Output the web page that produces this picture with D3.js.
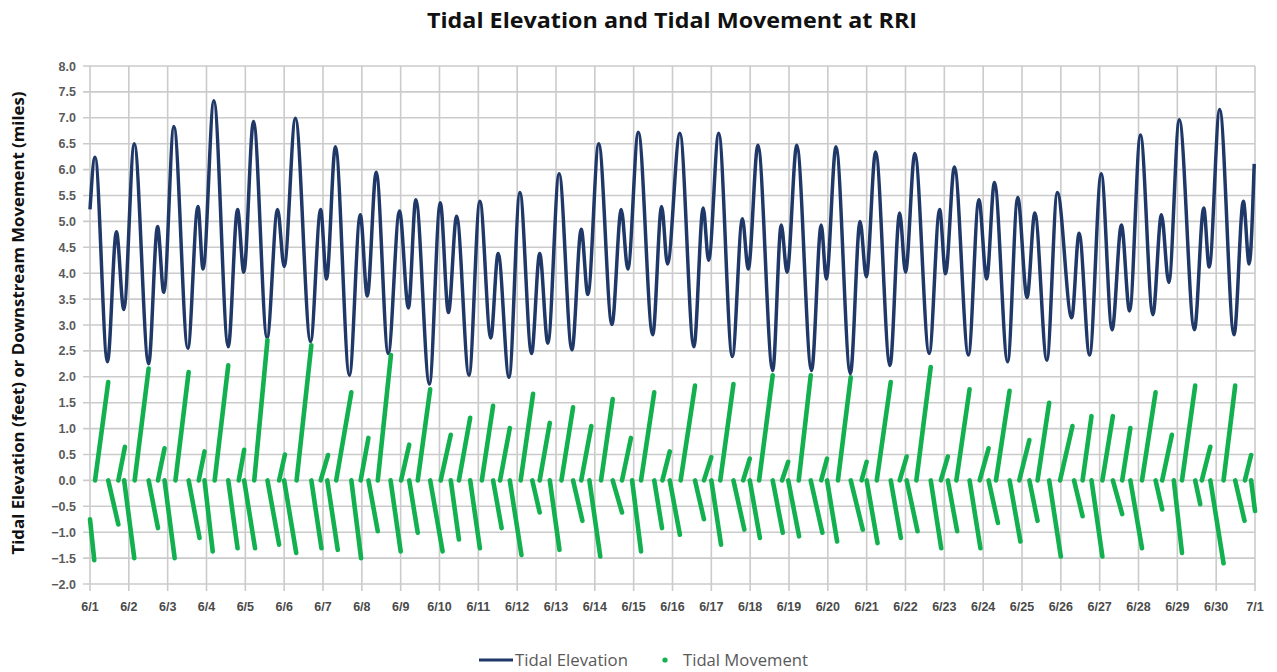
<!DOCTYPE html>
<html>
<head>
<meta charset="utf-8">
<script src="https://cdn.jsdelivr.net/npm/d3@7"></script>
<style>
  html, body { margin: 0; padding: 0; background: #ffffff; }
  svg { display: block; }
</style>
</head>
<body>
<svg id="chart" width="1277" height="672"></svg>
<script>
// Tide extremes (day offset from 6/1 00:00, elevation in feet)
const tideDays = [
  0.00, 0.13, 0.45, 0.68, 0.87, 1.14, 1.51, 1.74, 1.90, 2.16, 2.52, 2.78, 2.91, 3.19, 3.56, 3.80, 3.96,
  4.21, 4.56, 4.83, 5.00, 5.29, 5.68, 5.94, 6.09, 6.32, 6.68, 6.96, 7.14, 7.37, 7.68, 7.97, 8.20, 8.39,
  8.74, 9.02, 9.23, 9.44, 9.76, 10.04, 10.32, 10.51, 10.79, 11.07, 11.37, 11.58, 11.79, 12.08, 12.41,
  12.65, 12.82, 13.10, 13.44, 13.68, 13.85, 14.12, 14.49, 14.72, 14.87, 15.19, 15.55, 15.79, 15.93,
  16.19, 16.54, 16.80, 16.95, 17.20, 17.58, 17.80, 17.95, 18.20, 18.58, 18.83, 18.96, 19.21, 19.58,
  19.83, 19.99, 20.23, 20.60, 20.85, 21.00, 21.24, 21.61, 21.88, 22.03, 22.26, 22.62, 22.89, 23.09,
  23.29, 23.63, 23.89, 24.13, 24.33, 24.64, 24.91, 25.28, 25.47, 25.74, 26.04, 26.32, 26.56, 26.77,
  27.05, 27.37, 27.59, 27.78, 28.05, 28.44, 28.68, 28.82, 29.09, 29.46, 29.70, 29.85, 29.98
];
const tideFeet = [
  5.23, 6.24, 2.29, 4.80, 3.30, 6.50, 2.25, 4.90, 3.63, 6.83, 2.55, 5.29, 4.08, 7.33, 2.58, 5.23, 4.02,
  6.93, 2.75, 5.23, 4.13, 6.99, 2.68, 5.23, 3.89, 6.44, 2.03, 5.13, 3.56, 5.95, 2.45, 5.20, 3.33, 5.42,
  1.86, 5.36, 3.24, 5.10, 2.03, 5.39, 2.75, 4.38, 1.99, 5.56, 2.45, 4.38, 2.65, 5.92, 2.52,
  4.85, 3.59, 6.50, 3.01, 5.23, 4.08, 6.72, 2.81, 5.29, 4.18, 6.70, 2.58, 5.26, 4.25,
  6.70, 2.39, 5.05, 4.08, 6.47, 2.12, 4.93, 4.02, 6.47, 2.12, 4.93, 3.89, 6.44, 2.06,
  5.00, 3.93, 6.34, 2.22, 5.16, 4.02, 6.31, 2.45, 5.23, 3.99, 6.05, 2.42, 5.42, 3.89,
  5.75, 2.29, 5.46, 3.53, 5.16, 2.32, 5.56, 3.14, 4.77, 2.42, 5.92, 2.91, 4.93, 3.27,
  6.67, 3.20, 5.13, 3.82, 6.96, 2.91, 5.26, 4.12, 7.16, 2.81, 5.39, 4.18, 6.11
];

// Downstream movement during each ebb: [startDay, endDay, endMiles]
const ebbRuns = [
  [0.13, 0.47, 1.90], [0.73, 0.90, 0.65], [1.15, 1.51, 2.16], [1.75, 1.92, 0.62], [2.20, 2.54, 2.09],
  [2.80, 2.95, 0.56], [3.21, 3.56, 2.22], [3.83, 3.97, 0.59], [4.23, 4.57, 2.71], [4.87, 5.02, 0.50],
  [5.32, 5.70, 2.61], [5.94, 6.13, 0.49], [6.34, 6.73, 1.70], [6.97, 7.17, 0.82], [7.41, 7.75, 2.42],
  [8.01, 8.22, 0.69], [8.44, 8.76, 1.76], [9.03, 9.29, 0.88], [9.50, 9.79, 1.21], [10.09, 10.38, 1.44],
  [10.56, 10.81, 1.01], [11.09, 11.41, 1.67], [11.58, 11.84, 1.11], [12.14, 12.44, 1.41], [12.65, 12.91, 1.05],
  [13.16, 13.46, 1.57], [13.70, 13.93, 0.82], [14.19, 14.53, 1.70], [14.74, 14.93, 0.56], [15.21, 15.58, 1.83],
  [15.81, 16.00, 0.45], [16.23, 16.57, 1.86], [16.82, 16.99, 0.42], [17.23, 17.58, 2.03], [17.82, 17.98, 0.36],
  [18.25, 18.56, 2.03], [18.83, 18.98, 0.42], [19.26, 19.59, 1.99], [19.87, 20.00, 0.36], [20.26, 20.62, 1.90],
  [20.85, 21.03, 0.46], [21.28, 21.65, 2.19], [21.91, 22.09, 0.46], [22.31, 22.65, 1.76], [22.91, 23.14, 0.62],
  [23.33, 23.68, 1.73], [23.93, 24.19, 0.78], [24.40, 24.70, 1.50], [24.98, 25.30, 1.05], [25.56, 25.79, 1.24],
  [26.07, 26.34, 1.24], [26.58, 26.79, 1.01], [27.09, 27.44, 1.70], [27.61, 27.86, 0.88], [28.12, 28.46, 1.83],
  [28.63, 28.85, 0.65], [29.19, 29.49, 1.83], [29.74, 29.90, 0.49]
];

// Upstream movement during each flood: [startDay, endDay, startMiles, endMiles]
const floodRuns = [
  [0.00, 0.11, -0.75, -1.54], [0.47, 0.73, 0, -0.85], [0.88, 1.14, 0, -1.50], [1.51, 1.75, 0, -0.92],
  [1.92, 2.18, 0, -1.50], [2.54, 2.82, 0, -1.11], [2.95, 3.16, 0, -1.37], [3.56, 3.80, 0, -1.31],
  [3.97, 4.25, 0, -1.31], [4.57, 4.87, 0, -1.24], [5.00, 5.31, 0, -1.40], [5.70, 5.96, 0, -1.31],
  [6.11, 6.38, 0, -1.34], [6.73, 6.98, 0, -1.50], [7.17, 7.41, 0, -0.98], [7.74, 8.00, 0, -1.37],
  [8.22, 8.44, 0, -1.01], [8.76, 9.08, 0, -1.37], [9.29, 9.50, 0, -1.14], [9.79, 10.04, 0, -1.31],
  [10.38, 10.60, 0, -0.92], [10.81, 11.11, 0, -1.44], [11.39, 11.58, 0, -0.62], [11.84, 12.09, 0, -1.34],
  [12.44, 12.68, 0, -0.78], [12.86, 13.14, 0, -1.47], [13.46, 13.70, 0, -0.62], [13.96, 14.19, 0, -1.37],
  [14.53, 14.73, 0, -0.92], [14.93, 15.19, 0, -1.05], [15.58, 15.81, 0, -0.75], [16.00, 16.25, 0, -1.24],
  [16.57, 16.85, 0, -0.95], [16.99, 17.25, 0, -1.11], [17.58, 17.84, 0, -1.01], [17.98, 18.26, 0, -1.08],
  [18.56, 18.86, 0, -1.01], [18.98, 19.24, 0, -1.18], [19.59, 19.90, 0, -0.95], [20.00, 20.28, 0, -1.21],
  [20.62, 20.88, 0, -1.11], [21.03, 21.31, 0, -0.98], [21.65, 21.92, 0, -1.31], [22.09, 22.33, 0, -0.98],
  [22.65, 22.93, 0, -1.31], [23.14, 23.38, 0, -0.82], [23.68, 23.96, 0, -1.18], [24.19, 24.40, 0, -0.78],
  [24.70, 25.00, 0, -1.47], [25.34, 25.56, 0, -0.69], [25.79, 26.07, 0, -1.47], [26.34, 26.58, 0, -0.65],
  [26.79, 27.09, 0, -1.31], [27.44, 27.61, 0, -0.56], [27.91, 28.12, 0, -1.40], [28.46, 28.59, 0, -0.46],
  [28.85, 29.19, 0, -1.60], [29.49, 29.73, 0, -0.78], [29.90, 30.00, 0, -0.59]
];

const dateLabels = ["6/1","6/2","6/3","6/4","6/5","6/6","6/7","6/8","6/9","6/10","6/11","6/12","6/13","6/14",
  "6/15","6/16","6/17","6/18","6/19","6/20","6/21","6/22","6/23","6/24","6/25","6/26","6/27","6/28",
  "6/29","6/30","7/1"];
const yTicks = d3.range(-2, 8.001, 0.5);

const svg = d3.select("#chart");
const x = d3.scaleLinear().domain([0, 30]).range([90, 1255]);
const y = d3.scaleLinear().domain([-2, 8]).range([584, 66]);

const GRID = "#cbcbcb";
const NAVY = "#1f3868";
const GREEN = "#12b04e";

// Gridlines, with short tick stubs past the left and bottom edges
const grid = svg.append("g");
grid.selectAll("line.h").data(yTicks).join("line")
  .attr("x1", x(0) - 7).attr("x2", x(30))
  .attr("y1", d => y(d)).attr("y2", d => y(d))
  .attr("stroke", GRID).attr("stroke-width", 1.6);
grid.selectAll("line.v").data(d3.range(0, 31)).join("line")
  .attr("x1", d => x(d)).attr("x2", d => x(d))
  .attr("y1", y(8)).attr("y2", y(-2) + 7)
  .attr("stroke", GRID).attr("stroke-width", 1.6);

// Y axis labels
svg.append("g").selectAll("text").data(yTicks).join("text")
  .attr("x", 76).attr("y", d => y(d) + 4.5)
  .attr("text-anchor", "end")
  .attr("font-family", "Liberation Sans, Arial, sans-serif")
  .attr("font-size", 12.5).attr("font-weight", "bold").attr("fill", "#5a5a5a")
  .text(d => d3.format(".1f")(d));

// X axis labels
svg.append("g").selectAll("text").data(dateLabels).join("text")
  .attr("x", (d, i) => x(i)).attr("y", 611)
  .attr("text-anchor", "middle")
  .attr("font-family", "Liberation Sans, Arial, sans-serif")
  .attr("font-size", 12.5).attr("font-weight", "bold").attr("fill", "#4a4a4a")
  .text(d => d);

// Tidal elevation curve
const tide = tideDays.map((d, i) => [d, tideFeet[i]]);
svg.append("path").datum(tide)
  .attr("fill", "none").attr("stroke", NAVY).attr("stroke-width", 3.5)
  .attr("stroke-linejoin", "round")
  .attr("d", d3.line().x(d => x(d[0])).y(d => y(d[1])).curve(d3.curveMonotoneX));

// Tidal movement runs
const moves = svg.append("g")
  .attr("stroke", GREEN).attr("stroke-width", 4.6).attr("stroke-linecap", "round");
moves.selectAll("line.ebb").data(ebbRuns).join("line")
  .attr("x1", d => x(d[0])).attr("y1", y(0))
  .attr("x2", d => x(d[1])).attr("y2", d => y(d[2]));
moves.selectAll("line.flood").data(floodRuns).join("line")
  .attr("x1", d => x(d[0])).attr("y1", d => y(d[2]))
  .attr("x2", d => x(d[1])).attr("y2", d => y(d[3]));

// Title
svg.append("text")
  .attr("x", 672).attr("y", 28).attr("text-anchor", "middle")
  .attr("font-family", "Open Sans, sans-serif").attr("font-size", 21).attr("font-weight", "bold")
  .attr("fill", "#111")
  .attr("textLength", 490).attr("lengthAdjust", "spacingAndGlyphs")
  .text("Tidal Elevation and Tidal Movement at RRI");

// Y axis title
svg.append("text")
  .attr("transform", "translate(24,323) rotate(-90)")
  .attr("text-anchor", "middle")
  .attr("font-family", "Open Sans, sans-serif").attr("font-size", 16).attr("font-weight", "bold")
  .attr("fill", "#111")
  .attr("textLength", 463).attr("lengthAdjust", "spacingAndGlyphs")
  .text("Tidal Elevation (feet) or Downstream Movement (miles)");

// Legend
const legend = svg.append("g")
  .attr("font-family", "Open Sans, sans-serif").attr("font-size", 16).attr("fill", "#595959");
legend.append("line")
  .attr("x1", 479).attr("x2", 513).attr("y1", 660).attr("y2", 660)
  .attr("stroke", NAVY).attr("stroke-width", 3);
legend.append("text").attr("x", 515).attr("y", 666)
  .attr("textLength", 113).attr("lengthAdjust", "spacingAndGlyphs").text("Tidal Elevation");
legend.append("circle").attr("cx", 665).attr("cy", 660).attr("r", 2.6).attr("fill", GREEN);
legend.append("text").attr("x", 683).attr("y", 666)
  .attr("textLength", 125).attr("lengthAdjust", "spacingAndGlyphs").text("Tidal Movement");
</script>
</body>
</html>
